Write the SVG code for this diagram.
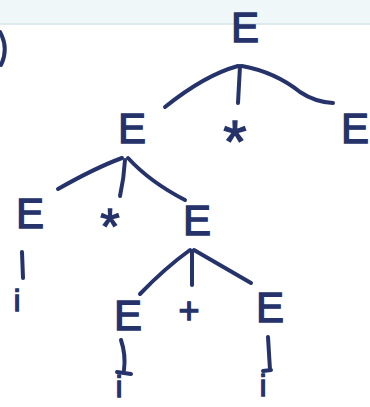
<svg xmlns="http://www.w3.org/2000/svg" width="370" height="407" viewBox="0 0 370 407">
<style>
.t{font-family:"Liberation Sans",Arial,sans-serif;fill:#25336a;stroke:#25336a;stroke-width:1.3;text-anchor:middle}
.E{font-size:42px}
.i{font-size:30px}
.c path{fill:none;stroke:#25336a;stroke-width:4;stroke-linecap:round;stroke-linejoin:round}
</style>
<rect x="0" y="0" width="370" height="407" fill="#ffffff"/>
<rect x="0" y="0" width="370" height="24" fill="#f0f7f8"/>
<line x1="0" y1="24" x2="370" y2="24" stroke="#d6e5e8" stroke-width="1.5"/>
<path d="M0,32 Q9,48 1,65" fill="none" stroke="#25336a" stroke-width="4" stroke-linecap="round"/>
<g id="connectors" class="c">
<path d="M165,107 Q205,75 238,66"/>
<path d="M240,66 L238,103"/>
<path d="M242,66 Q275,72 300,92 Q315,102 333,103"/>
<path d="M58,189 Q95,168 122,158"/>
<path d="M125,160 Q124,178 120,196"/>
<path d="M128,158 Q150,182 185,200"/>
<path d="M140,294 Q165,268 190,250"/>
<path d="M192,251 L192,285"/>
<path d="M194,250 Q225,268 251,283"/>
<path d="M22,252 L23,278"/>
<path d="M121,340 Q126,355 124,370 M117,372 L131,374"/>
<path d="M268,337 L270,370 M263,371 L271,370"/>
</g>
<g id="n-root"><text class="t E" x="245" y="42">E</text></g>
<g id="n-E1"><text class="t E" x="132" y="143">E</text></g>
<g id="n-star1"><text class="t" x="235" y="162" font-size="60">*</text></g>
<g id="n-E2"><text class="t E" x="355" y="143">E</text></g>
<g id="n-E3"><text class="t E" x="30" y="228">E</text></g>
<g id="n-star2"><text class="t" x="110" y="244" font-size="50">*</text></g>
<g id="n-E4"><text class="t E" x="197" y="235">E</text></g>
<g id="n-i1"><text class="t i" x="17" y="311">i</text></g>
<g id="n-E5"><text class="t E" x="128" y="330">E</text></g>
<g id="n-plus"><text class="t" x="189" y="323" font-size="36">+</text></g>
<g id="n-E6"><text class="t E" x="270" y="322">E</text></g>
<g id="n-i2"><text class="t i" x="119" y="397">i</text></g>
<g id="n-i3"><text class="t i" x="263" y="396">i</text></g>
</svg>
